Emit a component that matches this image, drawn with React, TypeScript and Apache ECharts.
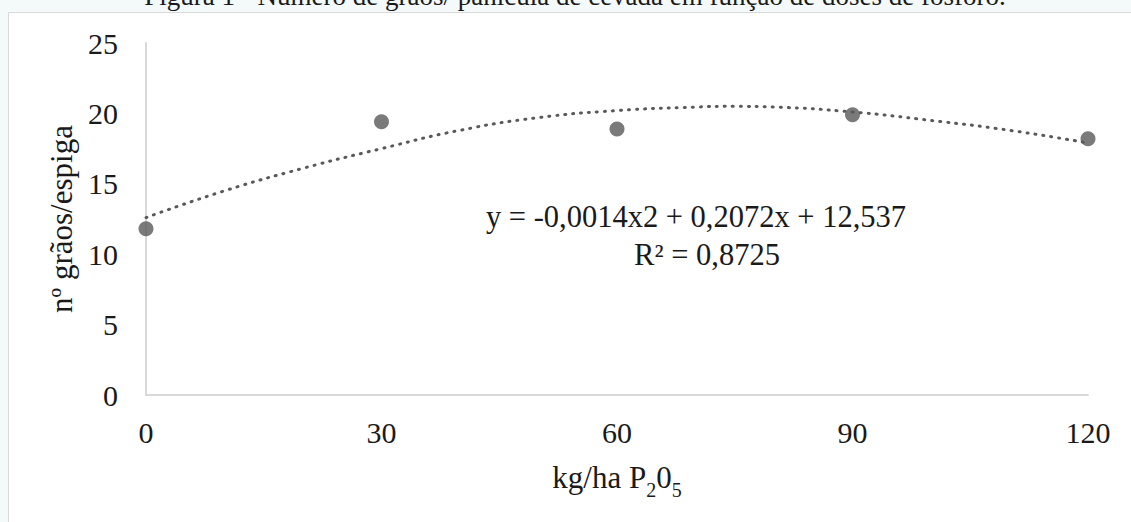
import React, { useEffect, useRef } from "react";
import * as echarts from "echarts";

const doses = [0, 30, 60, 90, 120];
const grains = [11.8, 19.4, 18.9, 19.9, 18.2];
const trendX = [0, 10, 20, 30, 40, 50, 60, 70, 75, 80, 90, 100, 110, 120];
const trendY = [12.6, 14.5, 16.1, 17.5, 18.8, 19.7, 20.2, 20.45, 20.5, 20.45, 20.1, 19.5, 18.8, 17.9];
const yTicks = [0, 5, 10, 15, 20, 25];
const xTicks = [0, 30, 60, 90, 120];
const titleText = "Figura 1 - Número de grãos/ panícula de cevada em função de doses de fósforo.";
const equationText = "y = -0,0014x2 + 0,2072x + 12,537";
const r2Text = "R² = 0,8725";

const FONT = "'Liberation Serif', 'Times New Roman', serif";

export default function App() {
  const ref = useRef<HTMLDivElement>(null);
  useEffect(() => {
    if (!ref.current) return;
    const chart = echarts.init(ref.current, undefined, { renderer: "svg" });
    chart.setOption({
      animation: false,
      backgroundColor: "#f4fafa",
      textStyle: { fontFamily: FONT },
      graphic: [
        {
          type: "rect",
          z: -10,
          shape: { x: 8.5, y: 12.5, width: 1140, height: 520 },
          style: { fill: "#ffffff", stroke: "#d9d9d9", lineWidth: 1 },
        },
        {
          type: "text",
          x: 575,
          y: 9,
          style: {
            text: titleText,
            font: `27px ${FONT}`,
            fill: "#1a1a1a",
            textAlign: "center",
            textVerticalAlign: "bottom",
          },
        },
        {
          type: "text",
          x: 696,
          y: 217,
          style: {
            text: equationText,
            font: `30.5px ${FONT}`,
            fill: "#1a1a1a",
            textAlign: "center",
            textVerticalAlign: "middle",
          },
        },
        {
          type: "text",
          x: 707,
          y: 255,
          style: {
            text: r2Text,
            font: `30.5px ${FONT}`,
            fill: "#1a1a1a",
            textAlign: "center",
            textVerticalAlign: "middle",
          },
        },
      ],
      grid: { left: 146, right: 43, top: 43, bottom: 127, containLabel: false },
      xAxis: {
        type: "value",
        min: xTicks[0],
        max: xTicks[xTicks.length - 1],
        interval: 30,
        name: "{a|kg/ha P}{s|2}{a|0}{s|5}",
        nameLocation: "middle",
        nameGap: 66,
        nameTextStyle: {
          rich: {
            a: { fontSize: 31, fontFamily: FONT, color: "#1a1a1a", lineHeight: 32, verticalAlign: "bottom" },
            s: { fontSize: 20, fontFamily: FONT, color: "#1a1a1a", lineHeight: 20, verticalAlign: "bottom", padding: [0, 0, -7, 0] },
          },
        },
        axisLine: { show: true, lineStyle: { color: "#d9d9d9", width: 2 } },
        axisTick: { show: false },
        splitLine: { show: false },
        axisLabel: { fontSize: 30, fontFamily: FONT, color: "#1a1a1a", margin: 22 },
      },
      yAxis: {
        type: "value",
        min: yTicks[0],
        max: yTicks[yTicks.length - 1],
        interval: 5,
        name: "nº grãos/espiga",
        nameLocation: "middle",
        nameGap: 66,
        nameTextStyle: { fontSize: 31, fontFamily: FONT, color: "#1a1a1a" },
        axisLine: { show: true, lineStyle: { color: "#d9d9d9", width: 2 } },
        axisTick: { show: false },
        splitLine: { show: false },
        axisLabel: { fontSize: 30, fontFamily: FONT, color: "#1a1a1a", margin: 28 },
      },
      series: [
        {
          type: "line",
          data: trendX.map((x, i) => [x, trendY[i]]),
          smooth: true,
          showSymbol: false,
          silent: true,
          z: 2,
          lineStyle: { color: "#595959", width: 3, type: [1, 7], cap: "round" },
        },
        {
          type: "scatter",
          data: doses.map((x, i) => [x, grains[i]]),
          symbol: "circle",
          symbolSize: 15,
          z: 3,
          itemStyle: { color: "#595959" },
        },
      ],
    });
    return () => chart.dispose();
  }, []);
  return (
    <div
      ref={ref}
      style={{ position: "fixed", left: 0, top: 0, width: 1131, height: 522 }}
    />
  );
}
